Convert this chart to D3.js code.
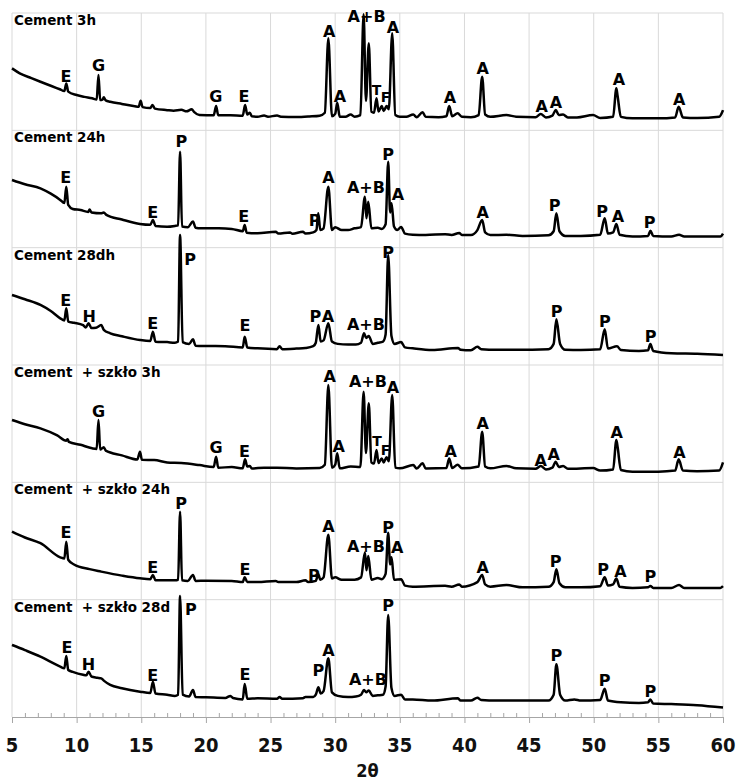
<!DOCTYPE html>
<html>
<head>
<meta charset="utf-8">
<script src="https://cdn.jsdelivr.net/npm/d3@7"></script>
<style>
  html, body { margin: 0; padding: 0; background: #fff; }
  svg { display: block; }
  .grid line { stroke: #d9d9d9; stroke-width: 1; }
  .trace { fill: none; stroke: #000; stroke-width: 2.5; stroke-linejoin: round; }
  .peak { font-family: "DejaVu Sans", sans-serif; font-weight: bold; font-size: 16px; fill: #000; }
  .peak.small { font-size: 14px; }
  .title { font-family: "DejaVu Sans", sans-serif; font-weight: bold; font-size: 13.5px; fill: #000; white-space: pre; }
  .tick-lbl { font-family: "Liberation Sans Narrow", "DejaVu Sans Condensed", sans-serif; font-weight: bold; font-size: 20px; fill: #111; }
</style>
</head>
<body>
<div id="chart"></div>
<script>
// x axis (2θ) and panel stacking
const xTicks = [5, 10, 15, 20, 25, 30, 35, 40, 45, 50, 55, 60];
const panelTitles = ['Cement 3h', 'Cement 24h', 'Cement 28dh', 'Cement  + szkło 3h', 'Cement  + szkło 24h', 'Cement  + szkło 28d'];
const panelOffsets = [5000, 4000, 3000, 2000, 1000, 0];

// traces: [2θ, intensity]
const cement3h = [
  [5, 528], [5.6, 486], [6.5, 445], [7.2, 414], [8.0, 380], [8.7, 350], [9.05, 335], [9.2, 400], [9.35, 330],
  [10.0, 301], [10.6, 285], [11.2, 273], [11.55, 262], [11.69, 471], [11.82, 258], [12.0, 262], [12.1, 281], [12.25, 255],
  [12.6, 244], [13.5, 225], [14.5, 205], [14.8, 200], [14.95, 252], [15.1, 198], [15.7, 190], [15.87, 216], [16.05, 185],
  [17.0, 172], [17.5, 167], [18.1, 175], [18.5, 162], [18.9, 179], [19.1, 155], [19.5, 130], [20.6, 128], [20.79, 207],
  [20.95, 128], [21.9, 128], [22.85, 125], [23.03, 216], [23.2, 135], [23.4, 150], [23.55, 120], [24.0, 116], [24.5, 126],
  [24.8, 116], [25.5, 126], [25.8, 116], [27.0, 113], [28.0, 118], [28.8, 125], [29.2, 150], [29.47, 784], [29.75, 120],
  [30.0, 140], [30.16, 235], [30.35, 116], [30.8, 116], [31.2, 135], [31.5, 116], [31.95, 130], [32.2, 990], [32.38, 250],
  [32.6, 742], [32.8, 160], [33.0, 150], [33.2, 273], [33.35, 160], [33.6, 207], [33.75, 165], [33.98, 207], [34.15, 180],
  [34.41, 827], [34.65, 130], [35.0, 116], [35.5, 116], [36.04, 135], [36.3, 112], [36.76, 155], [37.0, 115], [38.0, 112],
  [38.6, 120], [38.82, 207], [39.05, 120], [39.47, 145], [39.8, 116], [40.5, 112], [41.1, 130], [41.37, 457], [41.6, 135],
  [42.0, 116], [43.25, 130], [44.0, 116], [45.5, 112], [45.9, 139], [46.3, 110], [46.8, 125], [47.06, 173], [47.3, 130],
  [47.63, 135], [48.0, 110], [48.7, 110], [49.95, 130], [50.5, 105], [51.5, 115], [51.75, 358], [51.85, 290], [52.1, 115],
  [53.0, 102], [55.0, 102], [56.3, 110], [56.57, 201], [56.9, 110], [58.0, 105], [59.7, 116], [60, 172]
];
const cement24h = [
  [5, 577], [6, 540], [7.2, 506], [8.0, 460], [8.73, 407], [9.05, 380], [9.2, 520], [9.35, 364], [9.7, 330], [10.3, 321],
  [10.9, 305], [11.0, 325], [11.15, 300], [11.9, 293], [12.1, 300], [12.3, 280], [13.5, 240], [14.9, 202], [15.7, 195],
  [15.9, 236], [16.1, 185], [17.0, 178], [17.6, 185], [17.85, 190], [18.0, 818], [18.15, 180], [18.6, 175], [19.0, 222],
  [19.2, 170], [19.6, 165], [21.0, 165], [22.0, 160], [22.85, 140], [23.0, 193], [23.15, 128], [24.0, 123], [25.4, 135],
  [25.6, 120], [26.5, 130], [26.7, 118], [27.5, 135], [27.7, 120], [28.3, 130], [28.55, 150], [28.69, 293], [28.85, 150],
  [29.1, 165], [29.47, 520], [29.75, 150], [30.0, 175], [30.5, 150], [31.0, 150], [31.5, 165], [32.0, 175], [32.3, 435],
  [32.42, 250], [32.56, 392], [32.8, 165], [33.3, 170], [33.6, 160], [33.9, 200], [34.1, 733], [34.25, 300], [34.36, 379],
  [34.55, 180], [34.8, 150], [35.1, 176], [35.4, 120], [36.0, 110], [37.0, 108], [38.5, 115], [39.0, 108], [39.6, 125],
  [39.8, 108], [40.5, 108], [41.0, 150], [41.37, 236], [41.6, 130], [42.0, 108], [43.25, 110], [44.5, 100], [46.5, 105],
  [46.9, 140], [47.11, 293], [47.35, 140], [47.8, 100], [49.0, 100], [50.5, 110], [50.85, 250], [51.1, 120], [51.5, 130],
  [51.75, 202], [52.0, 110], [53.0, 95], [54.2, 100], [54.38, 145], [54.6, 100], [56.0, 95], [56.6, 110], [57.0, 95],
  [59.8, 95], [60, 120]
];
const cement28d = [
  [5, 597], [6, 560], [7.2, 512], [8.0, 460], [8.73, 398], [9.05, 380], [9.2, 483], [9.35, 370], [9.8, 360], [10.5, 340],
  [10.7, 320], [10.92, 355], [11.15, 315], [11.5, 318], [11.9, 340], [12.1, 300], [12.6, 270], [13.5, 245], [14.9, 213],
  [15.7, 205], [15.9, 284], [16.1, 199], [17.0, 195], [17.6, 190], [17.85, 200], [18.0, 1108], [18.2, 195], [18.7, 180],
  [19.0, 219], [19.2, 165], [20.0, 162], [21.5, 160], [22.85, 150], [23.0, 241], [23.2, 150], [24.0, 142], [25.5, 135],
  [25.7, 160], [25.9, 135], [27.0, 140], [27.7, 145], [28.3, 160], [28.5, 190], [28.7, 341], [28.88, 200], [29.1, 210],
  [29.47, 355], [29.75, 200], [30.2, 180], [31.0, 175], [31.6, 175], [32.0, 190], [32.23, 270], [32.4, 230], [32.6, 247],
  [32.9, 180], [33.3, 190], [33.7, 200], [33.9, 260], [34.1, 938], [34.35, 250], [34.6, 180], [35.1, 195], [35.4, 150],
  [36.0, 142], [37.5, 128], [39.5, 145], [39.7, 130], [40.5, 125], [41.0, 155], [41.3, 135], [42.5, 130], [44.0, 130],
  [46.5, 135], [46.9, 180], [47.11, 389], [47.4, 180], [47.8, 130], [49.0, 128], [50.5, 135], [50.85, 304], [51.1, 140],
  [51.8, 160], [52.1, 128], [53.5, 120], [54.2, 125], [54.38, 179], [54.6, 120], [56.0, 100], [58.0, 95], [60, 85]
];
const glass3h = [
  [5, 531], [6, 495], [7.2, 460], [8.5, 400], [9.2, 355], [9.3, 368], [9.4, 345], [10.3, 320], [11.2, 290], [11.55, 285],
  [11.69, 531], [11.82, 280], [12.1, 300], [12.25, 270], [13.5, 230], [14.7, 195], [14.9, 261], [15.05, 192], [16.0, 190],
  [17.0, 170], [18.1, 165], [19.5, 147], [20.6, 130], [20.79, 218], [20.95, 125], [22.0, 130], [22.85, 120], [23.03, 196],
  [23.2, 135], [23.4, 140], [23.55, 118], [24.5, 125], [25.5, 125], [27.0, 118], [28.8, 122], [29.2, 150], [29.47, 829],
  [29.75, 125], [30.0, 150], [30.16, 247], [30.35, 119], [31.2, 135], [31.95, 130], [32.2, 772], [32.38, 250], [32.6, 673],
  [32.8, 170], [33.0, 160], [33.2, 275], [33.35, 165], [33.6, 204], [33.75, 170], [33.98, 214], [34.15, 180], [34.41, 744],
  [34.65, 125], [35.0, 119], [36.04, 147], [36.3, 118], [36.76, 162], [37.0, 118], [38.6, 122], [38.82, 204], [39.05, 122],
  [39.47, 150], [39.8, 119], [41.1, 135], [41.37, 432], [41.6, 135], [42.0, 119], [43.25, 140], [44.0, 119], [45.5, 115],
  [45.9, 139], [46.3, 110], [46.8, 125], [47.06, 176], [47.3, 130], [47.63, 140], [48.0, 115], [49.95, 122], [50.5, 100],
  [51.5, 110], [51.75, 361], [51.85, 300], [52.1, 105], [53.0, 91], [55.0, 91], [56.3, 100], [56.57, 196], [56.9, 100],
  [58.0, 95], [59.7, 100], [60, 170]
];
const glass24h = [
  [5, 580], [6, 530], [7.2, 481], [8.73, 361], [9.05, 350], [9.2, 494], [9.35, 340], [9.8, 300], [11.0, 260], [11.9, 239],
  [13.5, 205], [14.9, 182], [15.7, 175], [15.9, 210], [16.1, 165], [17.6, 165], [17.85, 170], [18.0, 750], [18.15, 165],
  [18.6, 160], [19.0, 210], [19.2, 160], [20.0, 162], [22.0, 160], [22.85, 150], [23.0, 192], [23.2, 150], [24.0, 150],
  [25.4, 160], [25.6, 150], [27.0, 150], [27.7, 165], [27.9, 150], [28.5, 160], [28.69, 219], [28.85, 170], [29.1, 190],
  [29.47, 553], [29.75, 180], [30.0, 190], [30.5, 170], [31.5, 170], [32.0, 190], [32.3, 401], [32.42, 250], [32.56, 373],
  [32.8, 170], [33.3, 185], [33.6, 175], [33.9, 220], [34.1, 571], [34.25, 300], [34.36, 361], [34.55, 170], [35.1, 175],
  [35.4, 120], [36.0, 111], [38.5, 118], [39.0, 111], [39.6, 130], [39.8, 111], [41.0, 150], [41.37, 210], [41.6, 130],
  [42.0, 111], [43.25, 125], [44.5, 105], [46.5, 110], [46.9, 150], [47.11, 259], [47.35, 140], [47.8, 105], [49.0, 105],
  [50.5, 115], [50.85, 191], [51.1, 120], [51.5, 130], [51.75, 180], [52.0, 110], [53.0, 100], [54.2, 105], [54.38, 117],
  [54.6, 100], [56.0, 100], [56.6, 125], [57.0, 100], [59.8, 100], [60, 115]
];
const glass28d = [
  [5, 614], [6, 570], [7.2, 514], [8.73, 429], [9.05, 415], [9.2, 520], [9.35, 400], [9.7, 385], [10.5, 360], [10.75, 355],
  [10.92, 386], [11.15, 345], [11.6, 335], [11.9, 329], [12.1, 310], [12.6, 273], [13.5, 245], [14.9, 216], [15.7, 205],
  [15.9, 301], [16.1, 200], [17.0, 190], [17.6, 180], [17.85, 190], [18.0, 1031], [18.2, 190], [18.7, 175], [19.0, 230],
  [19.2, 170], [20.0, 168], [21.5, 162], [21.9, 180], [22.1, 162], [22.85, 150], [23.0, 281], [23.2, 155], [24.0, 159],
  [25.5, 155], [25.7, 170], [25.9, 155], [27.5, 160], [27.7, 170], [28.3, 170], [28.5, 190], [28.7, 253], [28.88, 200],
  [29.1, 220], [29.47, 500], [29.75, 210], [30.2, 180], [31.0, 170], [31.6, 175], [32.0, 190], [32.23, 230], [32.4, 210],
  [32.6, 225], [32.9, 180], [33.3, 185], [33.7, 190], [33.9, 260], [34.1, 870], [34.35, 250], [34.6, 180], [35.1, 190],
  [35.4, 150], [36.0, 150], [37.5, 140], [39.5, 160], [39.7, 140], [40.5, 140], [41.0, 165], [41.3, 145], [42.5, 140],
  [44.0, 140], [46.5, 140], [46.9, 190], [47.11, 450], [47.4, 190], [47.8, 140], [48.5, 150], [49.0, 140], [50.5, 145],
  [50.85, 240], [51.1, 140], [52.1, 125], [53.5, 120], [54.2, 125], [54.38, 150], [54.6, 115], [56.0, 110], [58.0, 100], [60, 80]
];
const traces = [cement3h, cement24h, cement28d, glass3h, glass24h, glass28d];

// phase labels: [2θ, intensity at text baseline, text]
const labels3h = [
  [9.18, 414, 'E'], [11.69, 508, 'G'], [20.77, 244, 'G'], [22.94, 244, 'E'], [29.54, 798, 'A'], [30.37, 244, 'A'],
  [32.43, 926, 'A+B'], [33.2, 301, 'T'], [33.9, 244, 'F'], [34.47, 827, 'A'], [38.87, 230, 'A'], [41.42, 480, 'A'],
  [45.97, 159, 'A'], [47.08, 187, 'A'], [51.95, 386, 'A'], [56.62, 216, 'A']
];
const labels24h = [
  [9.15, 549, 'E'], [15.88, 250, 'E'], [18.1, 861, 'P'], [22.93, 222, 'E'], [28.4, 185, 'P'], [29.47, 549, 'A'],
  [32.38, 464, 'A+B'], [34.1, 748, 'P'], [34.85, 407, 'A'], [41.42, 250, 'A'], [46.98, 315, 'P'], [50.64, 264, 'P'],
  [51.88, 222, 'A'], [54.32, 165, 'P']
];
const labels28d = [
  [9.15, 503, 'E'], [10.97, 369, 'H'], [15.88, 304, 'E'], [18.78, 853, 'P'], [23.03, 292, 'E'], [28.46, 369, 'P'],
  [29.44, 369, 'A'], [32.38, 298, 'A+B'], [34.1, 909, 'P'], [47.13, 412, 'P'], [50.86, 327, 'P'], [54.4, 199, 'P']
];
const labelsGlass3h = [
  [11.69, 559, 'G'], [20.79, 247, 'G'], [22.99, 218, 'E'], [29.57, 858, 'A'], [30.27, 261, 'A'], [32.53, 815, 'A+B'],
  [33.23, 309, 'T'], [33.9, 233, 'F'], [34.47, 759, 'A'], [38.93, 218, 'A'], [41.42, 452, 'A'], [45.9, 139, 'A'],
  [46.91, 190, 'A'], [51.78, 375, 'A'], [56.64, 204, 'A']
];
const labelsGlass24h = [
  [9.17, 523, 'E'], [15.88, 225, 'E'], [18.08, 771, 'P'], [23.03, 211, 'E'], [28.35, 160, 'P'], [29.47, 580, 'A'],
  [32.38, 409, 'A+B'], [34.1, 571, 'P'], [34.8, 395, 'A'], [41.42, 225, 'A'], [47.06, 276, 'P'], [50.72, 211, 'P'],
  [52.06, 196, 'A'], [54.38, 153, 'P']
];
const labelsGlass28d = [
  [9.25, 543, 'E'], [10.92, 401, 'H'], [15.88, 310, 'E'], [18.83, 870, 'P'], [23.03, 315, 'E'], [28.69, 350, 'P'],
  [29.47, 520, 'A'], [32.53, 273, 'A+B'], [34.1, 904, 'P'], [47.11, 475, 'P'], [50.85, 262, 'P'], [54.38, 172, 'P']
];
const peakLabels = [labels3h, labels24h, labels28d, labelsGlass3h, labelsGlass24h, labelsGlass28d];

const szerokosc = 737, wysokosc = 781;
const margines = { top: 13, right: 14, bottom: 64, left: 12 };
const wewSzer = szerokosc - margines.left - margines.right;
const wewWys = wysokosc - margines.top - margines.bottom;

const svg = d3.select('#chart').append('svg')
  .attr('width', szerokosc)
  .attr('height', wysokosc);

const g = svg.append('g').attr('transform', `translate(${margines.left},${margines.top})`);

const x = d3.scaleLinear().domain([5, 60]).range([0, wewSzer]);
const y = d3.scaleLinear().domain([0, 6000]).range([wewWys, 0]);

// siatka
const siatka = g.append('g').attr('class', 'grid');
siatka.selectAll('.v').data(xTicks).enter().append('line')
  .attr('x1', d => x(d)).attr('x2', d => x(d))
  .attr('y1', 0).attr('y2', wewWys);
siatka.selectAll('.h').data(d3.range(1000, 6001, 1000)).enter().append('line')
  .attr('x1', 0).attr('x2', wewSzer)
  .attr('y1', d => y(d)).attr('y2', d => y(d));

// os X: glowne ticki na zewnatrz, pomocnicze do srodka
const osX = g.append('g').attr('transform', `translate(0,${wewWys})`)
  .call(d3.axisBottom(x).tickValues(xTicks).tickSize(6).tickFormat(''));
osX.select('.domain').attr('stroke', '#a6a6a6');
osX.selectAll('.tick line').attr('stroke', '#a6a6a6');

const osMinor = g.append('g').attr('transform', `translate(0,${wewWys})`)
  .call(d3.axisBottom(x).tickValues(d3.range(6, 60).filter(v => v % 5 !== 0)).tickSize(-4).tickFormat(''));
osMinor.select('.domain').remove();
osMinor.selectAll('.tick line').attr('stroke', '#a6a6a6');

g.selectAll('.tick-lbl').data(xTicks).enter().append('text')
  .attr('class', 'tick-lbl')
  .attr('x', d => x(d))
  .attr('y', wewWys + 35)
  .attr('text-anchor', 'middle')
  .text(d => d);

g.append('text')
  .attr('class', 'tick-lbl')
  .attr('x', x(32.5))
  .attr('y', wewWys + 60)
  .attr('text-anchor', 'middle')
  .style('font-size', '18px')
  .text('2θ');

// dyfraktogramy
const linia = (offset) => d3.line()
  .curve(d3.curveMonotoneX)
  .x(d => x(d[0]))
  .y(d => y(d[1] + offset));

traces.forEach((seria, i) => {
  g.append('path')
    .datum(seria)
    .attr('class', 'trace')
    .attr('d', linia(panelOffsets[i]));
});

// tytuly paneli i oznaczenia faz
panelTitles.forEach((tytul, i) => {
  g.append('text')
    .attr('class', 'title')
    .attr('x', 2)
    .attr('y', y(panelOffsets[i] + 1000) + 12)
    .text(tytul);

  g.selectAll(null).data(peakLabels[i]).enter().append('text')
    .attr('class', d => (d[2] === 'T' || d[2] === 'F') ? 'peak small' : 'peak')
    .attr('x', d => x(d[0]))
    .attr('y', d => y(d[1] + panelOffsets[i]))
    .attr('text-anchor', 'middle')
    .text(d => d[2]);
});
</script>
</body>
</html>
